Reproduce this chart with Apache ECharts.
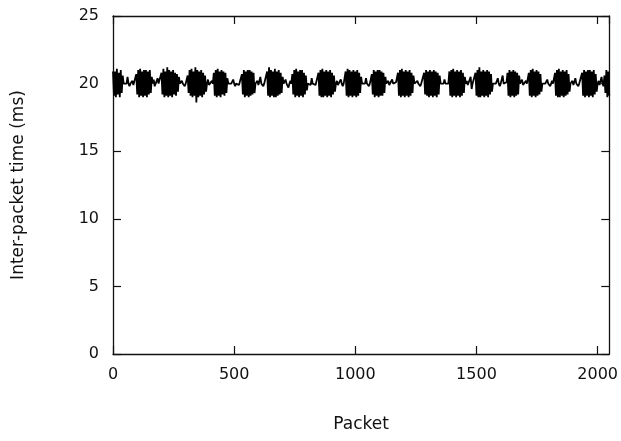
<!DOCTYPE html>
<html>
<head>
<meta charset="utf-8">
<script src="https://cdn.jsdelivr.net/npm/echarts@6/dist/echarts.min.js"></script>
<style>
  html, body { margin: 0; padding: 0; background: #fff; }
  #chart { width: 621px; height: 441px; }
</style>
</head>
<body>
<div id="chart"></div>
<script>
// inter-packet time (ms), one reading every 4 packets
var packetStep = 4;
var interPacketMs = [
  20.9,19.1,20.9,19.0,21.1,19.2,20.8,19.0,21.0,19.3,20.6,
  20.0,20.1,19.9,20.0,20.5,20.0,19.8,20.0,20.0,20.2,19.9,20.0,20.0,
  20.7,19.2,21.0,19.0,21.1,19.1,20.9,19.0,21.0,19.1,21.0,19.0,20.9,19.2,21.0,19.3,20.5,
  20.0,20.3,19.8,20.0,20.0,20.4,20.0,19.9,20.0,
  20.8,19.2,21.1,19.0,20.9,19.1,21.2,19.0,21.0,19.1,20.9,19.0,21.0,19.2,20.8,19.1,20.7,19.4,20.5,
  20.0,19.9,20.2,20.0,20.0,19.8,20.0,20.1,
  20.6,19.3,21.0,19.1,21.1,19.0,20.9,19.1,21.2,18.6,21.0,19.0,20.9,19.1,21.0,19.0,20.8,19.2,20.6,19.4,
  20.0,20.3,19.9,20.0,20.0,20.2,20.0,
  20.8,19.1,21.0,19.0,21.1,19.1,20.9,19.0,21.0,19.2,20.9,19.1,20.8,19.3,20.4,
  20.0,20.1,19.9,20.0,20.0,20.3,20.0,19.8,20.0,20.0,20.1,19.9,20.0,20.0,
  20.7,19.2,21.0,19.0,20.9,19.1,21.0,19.0,21.0,19.1,20.9,19.2,20.8,19.3,
  20.0,20.0,20.2,19.9,20.0,20.5,20.0,20.0,19.8,20.0,20.1,20.0,
  20.9,19.1,21.2,19.0,21.0,19.1,20.9,19.0,21.1,19.0,20.9,19.1,21.0,19.2,20.8,19.3,20.5,
  20.0,19.9,20.3,20.0,20.0,19.7,20.0,20.2,20.0,
  20.7,19.2,21.0,19.0,21.1,19.1,20.9,19.0,21.0,19.1,21.0,19.0,20.8,19.2,20.6,19.5,
  20.0,20.1,20.0,19.9,20.4,20.0,20.0,20.1,19.9,20.0,20.0,
  20.8,19.1,21.0,19.0,21.1,19.0,20.9,19.1,21.0,19.0,20.9,19.1,21.0,19.0,20.8,19.2,20.6,19.4,
  20.0,20.2,19.9,20.0,20.0,20.3,20.0,19.8,20.0,20.0,
  20.9,19.1,21.1,19.0,21.0,19.1,20.9,19.0,21.0,19.1,20.9,19.0,21.0,19.1,20.8,19.3,20.5,
  20.0,19.9,20.1,20.0,20.4,20.0,20.0,19.8,20.0,20.1,
  20.7,19.2,21.0,19.0,20.9,19.1,21.0,19.0,21.0,19.1,20.9,19.1,20.8,19.3,20.5,
  20.0,20.0,20.2,19.9,20.0,20.0,20.3,20.0,19.9,20.0,20.1,20.0,
  20.8,19.1,21.0,19.0,21.1,19.1,20.9,19.0,21.0,19.1,20.9,19.0,21.0,19.1,20.8,19.3,20.6,
  20.0,19.9,20.0,20.2,20.0,20.0,19.8,20.0,20.1,20.0,
  20.8,19.2,21.0,19.1,20.9,19.0,21.0,19.1,20.9,19.0,21.0,19.1,20.9,19.0,20.8,19.2,20.6,
  20.0,20.1,19.9,20.0,20.3,20.0,20.0,19.9,20.0,
  20.9,19.1,21.0,19.0,21.1,19.1,20.9,19.0,21.0,19.1,20.9,19.0,21.0,19.1,20.8,19.3,20.5,
  20.0,20.2,19.9,20.0,20.0,20.5,19.6,20.0,20.1,20.0,
  20.8,19.1,21.0,19.0,21.2,19.0,20.9,19.1,21.0,19.0,20.9,19.1,21.0,19.0,20.9,19.2,20.7,19.4,
  20.0,20.1,19.9,20.0,20.0,20.4,20.0,19.8,20.0,20.0,20.6,20.0,19.9,20.0,20.1,
  20.8,19.1,21.0,19.0,20.9,19.1,21.0,19.0,20.9,19.1,20.8,19.2,20.6,
  20.0,20.0,20.3,19.9,20.0,20.0,20.2,20.0,19.9,
  20.8,19.1,21.0,19.0,21.1,19.1,20.9,19.0,21.0,19.1,20.9,19.2,20.7,19.4,
  20.0,20.1,19.9,20.0,20.0,20.3,20.0,20.0,19.8,20.0,20.2,20.0,20.0,
  20.8,19.1,21.0,19.0,21.1,19.0,20.9,19.1,21.0,19.0,20.9,19.1,21.0,19.2,20.7,19.4,
  20.0,20.0,20.2,19.9,20.0,20.4,20.0,20.0,19.8,20.0,20.1,20.0,
  20.8,19.1,21.0,19.0,20.9,19.1,21.0,19.0,21.0,19.1,20.9,19.0,21.0,19.2,20.7,19.4,
  20.0,20.2,19.9,20.0,20.5,20.0,19.8,
  20.6,19.3,21.0,19.0,20.9,19.1
];
var xTicks = [0, 500, 1000, 1500, 2000];
var yTicks = [0, 5, 10, 15, 20, 25];

var points = [];
for (var i = 0; i < interPacketMs.length; i++) {
  points.push([i * packetStep, interPacketMs[i]]);
}

var font = 'DejaVu Sans, Liberation Sans, sans-serif';
var ink = '#111';

// gnuplot style frame: mirror axes on top and right, ticks pointing in
function frameAxis(extra) {
  var ax = {
    type: 'value',
    axisLine: { show: true, onZero: false, lineStyle: { color: ink, width: 1.3 } },
    axisTick: { inside: true, length: 8, lineStyle: { color: ink, width: 1.2 } },
    axisLabel: { show: false },
    splitLine: { show: false }
  };
  for (var k in extra) ax[k] = extra[k];
  return ax;
}

var chart = echarts.init(document.getElementById('chart'));
chart.setOption({
  animation: false,
  backgroundColor: '#fff',
  grid: { left: 113, right: 11, top: 16, bottom: 87 },
  xAxis: [
    frameAxis({
      min: 0, max: 2048, interval: 500, position: 'bottom',
      name: 'Packet', nameLocation: 'middle', nameGap: 62,
      nameTextStyle: { fontFamily: font, fontSize: 17, color: ink },
      axisLabel: { margin: 13, fontFamily: font, fontSize: 16, color: ink, showMaxLabel: false,
        formatter: function (v) { return xTicks.indexOf(v) >= 0 ? String(v) : ''; } }
    }),
    frameAxis({ min: 0, max: 2048, interval: 500, position: 'top' })
  ],
  yAxis: [
    frameAxis({
      min: 0, max: 25, interval: 5, position: 'left',
      name: 'Inter-packet time (ms)', nameLocation: 'middle', nameGap: 86,
      nameTextStyle: { fontFamily: font, fontSize: 17, color: ink },
      axisLabel: { margin: 14, fontFamily: font, fontSize: 16, color: ink,
        formatter: function (v) { return yTicks.indexOf(v) >= 0 ? String(v) : ''; } }
    }),
    frameAxis({ min: 0, max: 25, interval: 5, position: 'right' })
  ],
  series: [{
    type: 'line',
    data: points,
    showSymbol: false,
    sampling: null,
    lineStyle: { color: '#000', width: 1.8 },
    clip: true
  }]
});
</script>
</body>
</html>
